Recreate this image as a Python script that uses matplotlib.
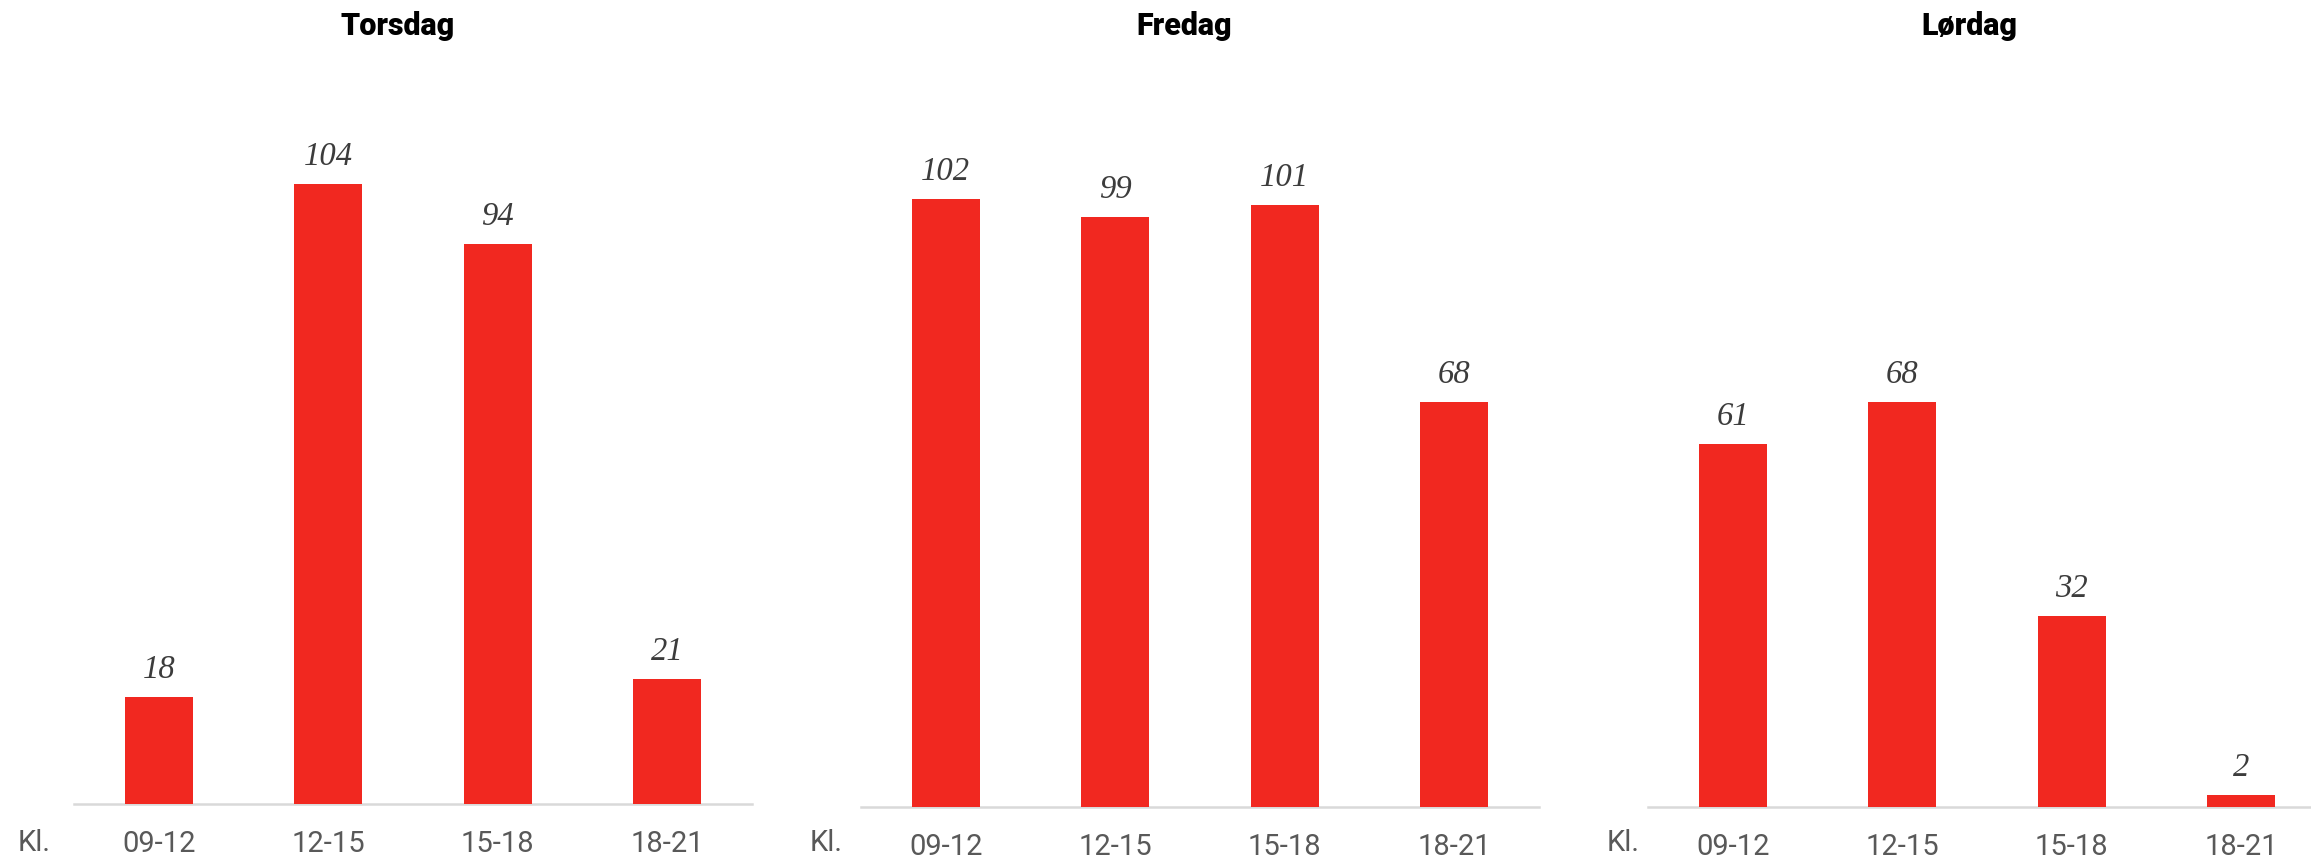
import matplotlib
matplotlib.use("Agg")
import matplotlib.pyplot as plt

# visitors per time slot, one panel per day
days = ["Torsdag", "Fredag", "Lørdag"]
slots = ["09-12", "12-15", "15-18", "18-21"]
torsdag = [18, 104, 94, 21]
fredag = [102, 99, 101, 68]
lordag = [61, 68, 32, 2]
values = [torsdag, fredag, lordag]

W, H = 2311, 858
bar_color = "#f12820"
label_color = "#3c3c3c"
tick_color = "#595959"

fig = plt.figure(figsize=(W / 100, H / 100), dpi=100, facecolor="white")

# panel geometry in pixels: left edge, baseline (from top)
panel_left = [74, 861, 1648]
panel_base = [804, 807, 807]
title_x = [398, 1184, 1969]
kl_x = [18, 810, 1607]
ax_w = 678
ax_h = 715

for i, day in enumerate(days):
    left = panel_left[i] / W
    bottom = (H - panel_base[i]) / H
    ax = fig.add_axes([left, bottom, ax_w / W, ax_h / H])
    x = range(len(slots))
    ax.bar(x, values[i], width=0.4, color=bar_color, zorder=2)
    ax.set_xlim(-0.5, 3.5)
    ax.set_ylim(0, 120)

    for xi, v in zip(x, values[i]):
        ax.annotate(str(v), (xi, v), xytext=(0, 13.7), textcoords="offset points",
                    ha="center", va="baseline", fontsize=23.5, style="italic",
                    family="Liberation Serif", color=label_color, annotation_clip=False)

    ax.set_xticks(list(x))
    ax.set_xticklabels(slots, family="Roboto", fontsize=21, color=tick_color)
    ax.tick_params(axis="x", length=0, pad=18.5)
    ax.set_yticks([])
    for side in ["top", "right", "left"]:
        ax.spines[side].set_visible(False)
    ax.spines["bottom"].set_color("#d9d9d9")
    ax.spines["bottom"].set_linewidth(1.8)
    ax.spines["bottom"].set_zorder(1)
    ax.set_facecolor("none")

    fig.text(title_x[i] / W, 1 - 35 / H, day, ha="center", va="baseline",
             fontsize=22, fontweight=900, family="Roboto", color="black")
    fig.text(kl_x[i] / W, 1 - 851 / H, "Kl.", ha="left", va="baseline",
             fontsize=21, family="Roboto", color=tick_color)

fig.savefig("out.png", dpi=100, facecolor="white")
